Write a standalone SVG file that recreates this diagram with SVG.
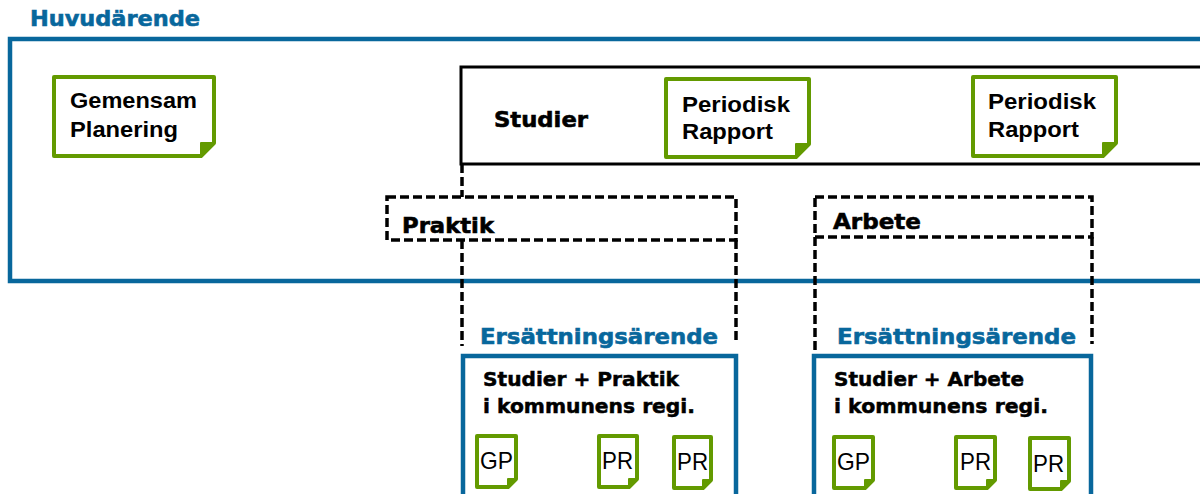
<svg xmlns="http://www.w3.org/2000/svg" width="1200" height="494" viewBox="0 0 1200 494">
<style>
.h{font-family:"DejaVu Sans",sans-serif;font-weight:bold;fill:#08679c;stroke:#08679c;stroke-width:0.6;font-size:22px}
.k{font-family:"DejaVu Sans",sans-serif;font-weight:bold;fill:#000;stroke:#000;stroke-width:0.6;font-size:22px}
.s{font-family:"DejaVu Sans",sans-serif;font-weight:bold;fill:#000;stroke:#000;stroke-width:0.5;font-size:20px}
.n{font-family:"Liberation Sans",Arial,sans-serif;font-weight:bold;fill:#000;font-size:22px}
.r{font-family:"Liberation Sans",Arial,sans-serif;fill:#000;font-size:24px}
.note{fill:#fff;stroke:#639a00;stroke-width:4;stroke-linejoin:round}
.fold{fill:#639a00;stroke:#639a00;stroke-width:2;stroke-linejoin:round}
.blue{fill:none;stroke:#08679c;stroke-width:4.5}
.dash{fill:none;stroke:#000;stroke-width:3.5;stroke-dasharray:9 4}
</style>
<rect width="1200" height="494" fill="#fff"/>
<g id="huvudarende">
<rect class="blue" x="10" y="39" width="1250" height="242"/>
<text class="h" x="30" y="26" textLength="170" lengthAdjust="spacingAndGlyphs">Huvudärende</text>
</g>
<g id="studier">
<rect x="461" y="67" width="800" height="97" fill="none" stroke="#000" stroke-width="3"/>
<text class="k" x="494" y="127" textLength="94" lengthAdjust="spacingAndGlyphs">Studier</text>
</g>
<g id="connectors">
<path class="dash" d="M462 164V197M462 240V346M736 240V344M815 237V350M1092 237V344"/>
</g>
<g id="gemensam">
<path class="note" d="M54 77H214V143L201 156H54Z"/>
<path class="fold" d="M201 156L214 143H201Z"/>
<text class="n" x="70" y="108" textLength="127" lengthAdjust="spacingAndGlyphs">Gemensam</text>
<text class="n" x="70" y="137" textLength="108" lengthAdjust="spacingAndGlyphs">Planering</text>
</g>
<g id="pr1">
<path class="note" d="M666 79H809V144L796 157H666Z"/>
<path class="fold" d="M796 157L809 144H796Z"/>
<text class="n" x="682" y="112" textLength="108" lengthAdjust="spacingAndGlyphs">Periodisk</text>
<text class="n" x="682" y="139" textLength="91" lengthAdjust="spacingAndGlyphs">Rapport</text>
</g>
<g id="pr2">
<path class="note" d="M973 77H1116V143L1103 156H973Z"/>
<path class="fold" d="M1103 156L1116 143H1103Z"/>
<text class="n" x="988" y="109" textLength="108" lengthAdjust="spacingAndGlyphs">Periodisk</text>
<text class="n" x="988" y="137" textLength="91" lengthAdjust="spacingAndGlyphs">Rapport</text>
</g>
<g id="praktik">
<rect class="dash" x="387" y="197" width="349" height="43" fill="#fff"/>
<text class="k" x="402" y="233" textLength="92" lengthAdjust="spacingAndGlyphs">Praktik</text>
</g>
<g id="arbete">
<rect class="dash" x="815" y="197" width="277" height="40" fill="#fff"/>
<text class="k" x="833" y="229" textLength="88" lengthAdjust="spacingAndGlyphs">Arbete</text>
</g>
<g id="ersattning1">
<text class="h" x="480" y="344" textLength="238" lengthAdjust="spacingAndGlyphs">Ersättningsärende</text>
<rect class="blue" x="463" y="356" width="273" height="200"/>
<text class="s" x="483" y="386" textLength="196" lengthAdjust="spacingAndGlyphs">Studier + Praktik</text>
<text class="s" x="483" y="413" textLength="212" lengthAdjust="spacingAndGlyphs">i kommunens regi.</text>
<g id="gp1"><path class="note" d="M477 436H516V479L508 487H477Z"/><path class="fold" d="M508 487L516 479H508Z"/><text class="r" x="480" y="469" textLength="33" lengthAdjust="spacingAndGlyphs">GP</text></g>
<g id="pr1a"><path class="note" d="M599 436H637V479L629 487H599Z"/><path class="fold" d="M629 487L637 479H629Z"/><text class="r" x="602" y="469" textLength="31" lengthAdjust="spacingAndGlyphs">PR</text></g>
<g id="pr1b"><path class="note" d="M674 437H711V480L703 488H674Z"/><path class="fold" d="M703 488L711 480H703Z"/><text class="r" x="677" y="470" textLength="31" lengthAdjust="spacingAndGlyphs">PR</text></g>
</g>
<g id="ersattning2">
<text class="h" x="837" y="344" textLength="239" lengthAdjust="spacingAndGlyphs">Ersättningsärende</text>
<rect class="blue" x="814" y="356" width="277" height="200"/>
<text class="s" x="834" y="386" textLength="190" lengthAdjust="spacingAndGlyphs">Studier + Arbete</text>
<text class="s" x="834" y="413" textLength="214" lengthAdjust="spacingAndGlyphs">i kommunens regi.</text>
<g id="gp2"><path class="note" d="M834 437H873V480L865 488H834Z"/><path class="fold" d="M865 488L873 480H865Z"/><text class="r" x="837" y="470" textLength="33" lengthAdjust="spacingAndGlyphs">GP</text></g>
<g id="pr2a"><path class="note" d="M956 437H995V480L987 488H956Z"/><path class="fold" d="M987 488L995 480H987Z"/><text class="r" x="960" y="470" textLength="31" lengthAdjust="spacingAndGlyphs">PR</text></g>
<g id="pr2b"><path class="note" d="M1030 438H1069V481L1061 489H1030Z"/><path class="fold" d="M1061 489L1069 481H1061Z"/><text class="r" x="1033" y="472" textLength="31" lengthAdjust="spacingAndGlyphs">PR</text></g>
</g>
</svg>
